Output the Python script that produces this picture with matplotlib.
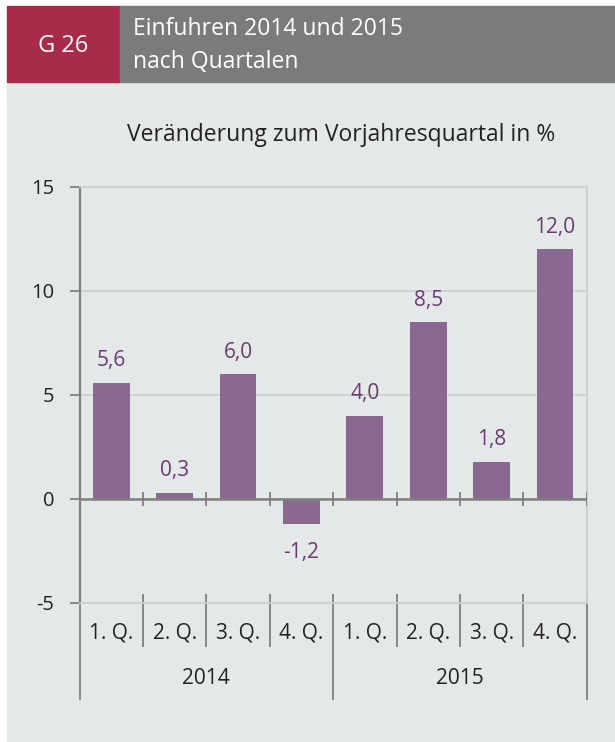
import matplotlib
matplotlib.use('Agg')
import matplotlib.pyplot as plt
from matplotlib.patches import Rectangle

plt.rcParams['font.family'] = ['Open Sans', 'DejaVu Sans']

# data
quarters = ['1. Q.', '2. Q.', '3. Q.', '4. Q.', '1. Q.', '2. Q.', '3. Q.', '4. Q.']
years = ['2014', '2015']
values = [5.6, 0.3, 6.0, -1.2, 4.0, 8.5, 1.8, 12.0]
yticks = [-5, 0, 5, 10, 15]

W, H = 615, 742
RED = '#a82c4a'
HEAD_GRAY = '#7b7b7d'
PANEL = '#e5e8e9'
BAR = '#8a6890'
LABEL = '#6a3a6e'
AXIS = '#7f7f7f'
GRID = '#cdd0d1'
TEXT = '#222222'

def fx(px):
    return px / W

def fy(py):
    return 1 - py / H

fig = plt.figure(figsize=(W / 100, H / 100), dpi=100)
fig.patch.set_facecolor('white')

# header and panel
fig.patches.append(Rectangle((fx(7), 0), 1 - fx(7), fy(82), transform=fig.transFigure,
                             color=PANEL, zorder=-5))
fig.patches.append(Rectangle((fx(7), fy(82)), fx(113), 76 / H, transform=fig.transFigure,
                             color=RED, zorder=-5))
fig.patches.append(Rectangle((fx(120), fy(82)), 1 - fx(120), 76 / H, transform=fig.transFigure,
                             color=HEAD_GRAY, zorder=-5))
fig.text(fx(63), fy(52.5), 'G 26', color='white', fontsize=17, ha='center', va='baseline')
fig.text(fx(133), fy(35), 'Einfuhren 2014 und 2015', color='white', fontsize=16.5, va='baseline')
fig.text(fx(133), fy(68), 'nach Quartalen', color='white', fontsize=16.5, va='baseline')
fig.text(fx(341), fy(141), 'Veränderung zum Vorjahresquartal in %', color=TEXT,
         fontsize=16.5, ha='center', va='baseline')

# axes area in pixels: x 79.5..586.7, y 187..603
ax = fig.add_axes([fx(79.5), fy(603), (586.7 - 79.5) / W, (603 - 187) / H])
ax.set_facecolor(PANEL)
x = list(range(len(values)))
ax.bar(x, values, width=0.58, color=BAR, zorder=3)
ax.set_xlim(-0.5, len(values) - 0.5)
ax.set_ylim(-5, 15)
ax.set_yticks(yticks)
ax.set_yticklabels([str(t) for t in yticks], fontsize=14.5, color=TEXT)
ax.tick_params(axis='y', length=7, width=1.3, color=AXIS, pad=11)
ax.set_xticks([])
ax.grid(axis='y', color=GRID, linewidth=1.3, zorder=1)
ax.set_axisbelow(True)

for side in ['top', 'right', 'bottom']:
    ax.spines[side].set_color(GRID)
    ax.spines[side].set_linewidth(1.3)
ax.spines['left'].set_color(AXIS)
ax.spines['left'].set_linewidth(1.6)

# zero line with small ticks at category boundaries
ax.axhline(0, color=AXIS, linewidth=1.8, zorder=4)
bounds = [i + 0.5 for i in range(len(values))]
ax.vlines(bounds, -0.35, 0.35, color=AXIS, linewidth=1.3, zorder=4)

# value labels
for xi, v in zip(x, values):
    lab = f'{v:.1f}'.replace('.', ',')
    if v >= 0:
        ax.annotate(lab, (xi, v), xytext=(0, 12), textcoords='offset points',
                    ha='center', va='baseline', fontsize=15, color=LABEL)
    else:
        ax.annotate(lab, (xi, v), xytext=(0, -13), textcoords='offset points',
                    ha='center', va='top', fontsize=15, color=LABEL)

# category axis below the plot
ah = 603 - 187
def ay(py):
    return (603 - py) / ah

tr = ax.get_xaxis_transform()
for xi, q in zip(x, quarters):
    ax.text(xi, ay(632.5), q, transform=tr, ha='center', va='center',
            fontsize=15, color=TEXT)
for i, yr in enumerate(years):
    ax.text(i * 4 + 1.5, ay(679), yr, transform=tr, ha='center', va='center',
            fontsize=15, color=TEXT)

q_seps = [0.5, 1.5, 2.5, 4.5, 5.5, 6.5]
y_seps = [-0.5, 3.5, 7.5]
ax.vlines(q_seps, ay(647), ay(594), transform=tr, color=AXIS, linewidth=1.3, clip_on=False)
ax.vlines(y_seps, ay(700), ay(594), transform=tr, color=AXIS, linewidth=1.3, clip_on=False)

fig.savefig('out.png', dpi=100)
